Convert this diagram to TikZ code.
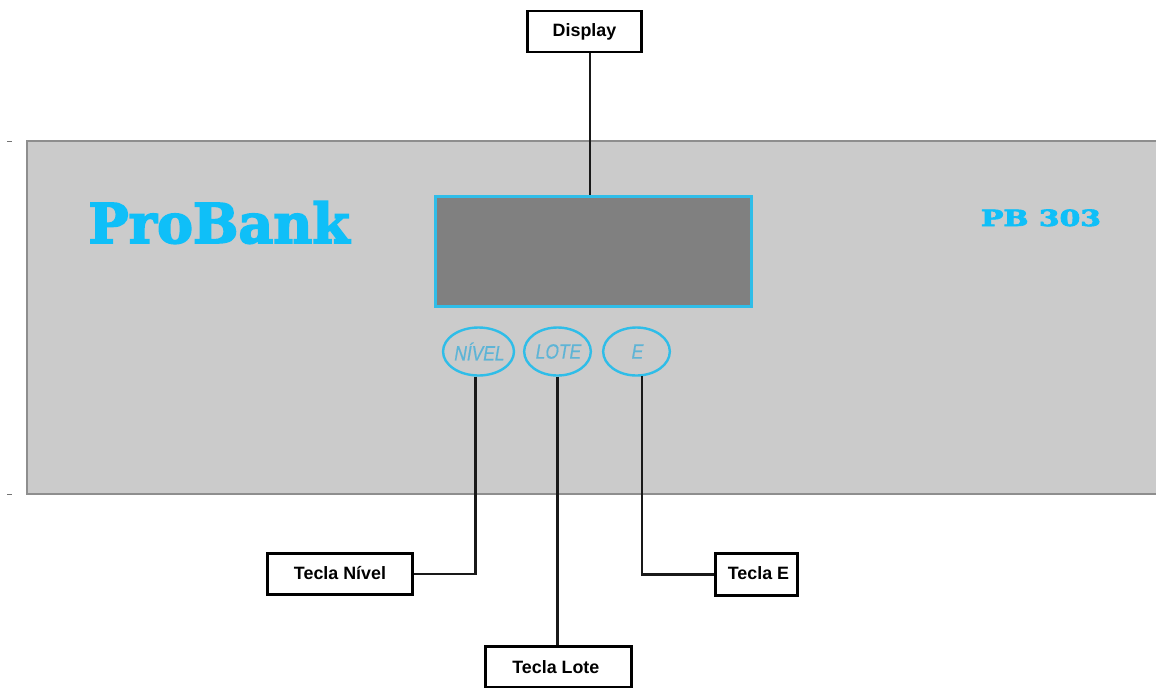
\documentclass[tikz,border=0pt]{standalone}
\usepackage{fontspec}
\usepackage{graphicx}
\setmainfont{Liberation Sans}
\newfontfamily\logofont[BoldFont={DejaVu Serif Bold},BoldFeatures={FakeBold=3}]{DejaVu Serif}
\newfontfamily\keyfont[FakeSlant=0.2,FakeBold=0.5]{Liberation Sans}
\usetikzlibrary{shapes.geometric}
\definecolor{panelgray}{HTML}{CBCBCB}
\definecolor{paneledge}{HTML}{8E8E8E}
\definecolor{screengray}{HTML}{808080}
\definecolor{logoblue}{HTML}{0FBFF8}
\definecolor{keyblue}{HTML}{2FBDE8}
\definecolor{keytext}{HTML}{5DB4D6}
\tikzset{
  x=0.75pt,y=-0.75pt,
  labelbox/.style={draw=black,fill=white,line width=1.7pt,inner sep=0pt,font=\bfseries\fontsize{13.4}{15}\selectfont,text=black},
  keyoval/.style={ellipse,draw=keyblue,line width=1.8pt,inner sep=0pt,minimum width=50pt,minimum height=36pt,text=keytext,font=\keyfont\fontsize{15.5}{18}\selectfont},
  leader/.style={draw=black!90,line width=1.75pt},
  tick/.style={draw=black!55,line width=0.7pt}
}
\begin{document}
\begin{tikzpicture}
\useasboundingbox (0,0) rectangle (1156,687);
\fill[white] (0,0) rectangle (1156,687);
\clip (0,0) rectangle (1156,687);
\node[draw=paneledge,fill=panelgray,line width=1.4pt,minimum width=1136*0.75pt,minimum height=353*0.75pt,inner sep=0pt] (panel) at (595,317.5) {};
\draw[tick] (7,141.5) -- (12,141.5);
\draw[tick] (7,494.5) -- (12,494.5);
\node[draw=keyblue,fill=screengray,line width=2.2pt,minimum width=316*0.75pt,minimum height=110*0.75pt,inner sep=0pt] (screen) at (593.5,251.5) {};
\node[text=logoblue,inner sep=0pt,anchor=base] (logo) at (219,243) {\resizebox{196pt}{!}{\scalebox{1}[1.02]{\logofont\bfseries ProBank}}};
\node[text=logoblue,inner sep=0pt,anchor=base] (model) at (1041,226) {\resizebox{90pt}{!}{\scalebox{1}[.75]{\logofont\bfseries PB 303}}};
\node[keyoval] (knivel) at (478.5,351.5) {\scalebox{.84}[1]{NÍVEL}};
\node[keyoval] (klote) at (557.5,351.5) {\scalebox{.84}[1]{LOTE}};
\node[keyoval] (ke) at (636.5,351.5) {\scalebox{.84}[1]{E}};
\node[labelbox,minimum width=114*0.75pt,minimum height=41*0.75pt] (display) at (584.5,31.5) {Display};
\node[labelbox,minimum width=145*0.75pt,minimum height=41*0.75pt] (tnivel) at (340,574) {\raisebox{2.2pt}{Tecla Nível}};
\node[labelbox,minimum width=146*0.75pt,minimum height=41*0.75pt] (tlote) at (558.5,667) {\hspace*{-4pt}Tecla Lote};
\node[labelbox,minimum width=82*0.75pt,minimum height=42*0.75pt] (te) at (756.5,574.5) {\hspace*{3pt}\raisebox{2.2pt}{Tecla E}};
\draw[leader] (display.south -| 590,0) coordinate (dtop) -- (dtop |- screen.north);
\draw[leader] (knivel.263) |- (tnivel.east);
\draw[leader] (klote.south) -- (klote.south |- tlote.north);
\draw[leader] (ke.282) |- (te.west);
\end{tikzpicture}
\end{document}
